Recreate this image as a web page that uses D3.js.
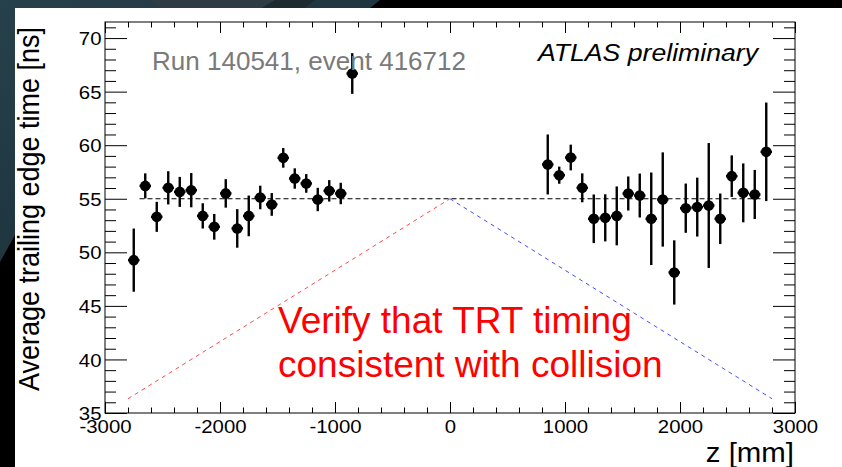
<!DOCTYPE html>
<html>
<head>
<meta charset="utf-8">
<script src="https://cdn.jsdelivr.net/npm/d3@7"></script>
<style>
  html, body { margin: 0; padding: 0; background: #000; }
  svg { display: block; }
  text { font-family: "Liberation Sans", Arial, Helvetica, sans-serif; }
</style>
</head>
<body>
<svg id="chart" width="842" height="467"></svg>
<script>
// ---- data ----
const zLeft = [-2750, -2650, -2550, -2450, -2350, -2250, -2150, -2050, -1950, -1850,
               -1750, -1650, -1550, -1450, -1350, -1250, -1150, -1050, -950, -850];
const tLeft = [49.27, 56.2, 53.31, 56.02, 55.64, 55.8, 53.4, 52.38, 55.5, 52.23,
               53.4, 55.12, 54.47, 58.82, 56.89, 56.43, 54.93, 55.74, 55.49, 66.69];
const eLeft = [2.95, 1.17, 1.4, 1.55, 1.4, 1.6, 1.18, 1.2, 1.33, 1.8,
               1.9, 1.1, 1.06, 0.92, 0.95, 0.87, 1.09, 1.0, 1.0, 1.9];

const zRight = [850, 950, 1050, 1150, 1250, 1350, 1450, 1550, 1650, 1750,
                1850, 1950, 2050, 2150, 2250, 2350, 2450, 2550, 2650, 2750];
const tRight = [58.2, 57.2, 58.85, 56.02, 53.13, 53.22, 53.4, 55.49, 55.3, 53.13,
                54.93, 48.12, 54.12, 54.22, 54.37, 53.13, 57.11, 55.55, 55.4, 59.38];
const eRight = [2.8, 0.8, 1.2, 1.35, 2.27, 2.2, 2.75, 1.59, 2.05, 4.32,
                4.4, 3.0, 2.3, 2.75, 5.83, 2.36, 1.94, 2.75, 2.29, 4.6];

const binHalfWidth = 50;

const refLine  = [[-2700, 55], [2700, 55]];
const redLine  = [[-2800, 36.33], [0, 55]];
const blueLine = [[0, 55], [2800, 36.33]];

const xMajorTicks = [-3000, -2000, -1000, 0, 1000, 2000, 3000];
const yMajorTicks = [35, 40, 45, 50, 55, 60, 65, 70];

const xTitle = "z [mm]";
const yTitle = "Average trailing edge time [ns]";
const runLabel = "Run 140541, event 416712";
const atlasLabel = "ATLAS preliminary";
const noteLines = ["Verify that TRT timing", "consistent with collision"];

// ---- layout ----
const W = 842, H = 467;
const plot = { left: 105, right: 795, top: 22, bottom: 413 };
const svg = d3.select("#chart");

// background
svg.append("rect").attr("width", W).attr("height", H).attr("fill", "#000");
const defs = svg.append("defs");
const grad = defs.append("linearGradient").attr("id", "teal")
  .attr("x1", 0).attr("y1", 0).attr("x2", 1).attr("y2", 1);
grad.append("stop").attr("offset", 0).attr("stop-color", "#27414c");
grad.append("stop").attr("offset", 1).attr("stop-color", "#172a32");
svg.append("path").attr("d", "M0,0 L380,0 L370,8 L15,8 L15,235 L0,262 Z").attr("fill", "url(#teal)");
svg.append("path").attr("d", "M150,0 L275,0 L262,8 L160,8 Z").attr("fill", "#2e3d44");
svg.append("path").attr("d", "M275,0 L315,0 L305,8 L262,8 Z").attr("fill", "#1d2a30");
// white panel
svg.append("rect").attr("x", 15).attr("y", 8).attr("width", W - 15).attr("height", H - 8).attr("fill", "#fff");

// scales
const x = d3.scaleLinear().domain([-3000, 3000]).range([plot.left, plot.right]);
const y = d3.scaleLinear().domain([35, 71.5]).range([plot.bottom, plot.top]);

const xMinor = d3.range(-3000, 3001, 200).filter(v => v % 1000 !== 0);
const yMinor = d3.range(35, 72, 1).filter(v => v % 5 !== 0);

const FS_TICK = 18.5, SX = 1.1;

// axes (ticks inside, ROOT style)
function styleAxis(g) {
  g.select(".domain").remove();
  g.selectAll("line").attr("stroke", "#000").attr("stroke-width", 1);
}
svg.append("g").attr("transform", `translate(0,${plot.bottom})`)
  .call(d3.axisBottom(x).tickValues(xMajorTicks).tickSize(-11).tickSizeOuter(0).tickPadding(7).tickFormat(d3.format("d")))
  .call(styleAxis)
  .call(g => g.selectAll("text").attr("font-size", FS_TICK).attr("fill", "#000")
      .attr("font-family", "Liberation Sans, Arial, sans-serif")
      .attr("y", 0).attr("dy", 0)
      .attr("transform", `translate(0,${6.5 + 0.71 * FS_TICK}) scale(${SX},1)`)
      .text(d => d < 0 ? "-" + Math.abs(d) : d));
svg.append("g").attr("transform", `translate(0,${plot.bottom})`)
  .call(d3.axisBottom(x).tickValues(xMinor).tickSize(-5.5).tickSizeOuter(0).tickFormat(""))
  .call(styleAxis);
svg.append("g").attr("transform", `translate(0,${plot.top})`)
  .call(d3.axisTop(x).tickValues(xMajorTicks).tickSize(-11).tickSizeOuter(0).tickFormat(""))
  .call(styleAxis);
svg.append("g").attr("transform", `translate(0,${plot.top})`)
  .call(d3.axisTop(x).tickValues(xMinor).tickSize(-5.5).tickSizeOuter(0).tickFormat(""))
  .call(styleAxis);

svg.append("g").attr("transform", `translate(${plot.left},0)`)
  .call(d3.axisLeft(y).tickValues(yMajorTicks).tickSize(-22).tickSizeOuter(0).tickPadding(3))
  .call(styleAxis)
  .call(g => g.selectAll("text").attr("font-size", FS_TICK).attr("fill", "#000")
      .attr("font-family", "Liberation Sans, Arial, sans-serif")
      .attr("x", 0).attr("dy", 0)
      .attr("transform", `translate(-3.5,${0.36 * FS_TICK}) scale(${SX},1)`));
svg.append("g").attr("transform", `translate(${plot.left},0)`)
  .call(d3.axisLeft(y).tickValues(yMinor).tickSize(-11).tickSizeOuter(0).tickFormat(""))
  .call(styleAxis);
svg.append("g").attr("transform", `translate(${plot.right},0)`)
  .call(d3.axisRight(y).tickValues(yMajorTicks).tickSize(-22).tickSizeOuter(0).tickFormat(""))
  .call(styleAxis);
svg.append("g").attr("transform", `translate(${plot.right},0)`)
  .call(d3.axisRight(y).tickValues(yMinor).tickSize(-11).tickSizeOuter(0).tickFormat(""))
  .call(styleAxis);

// frame
svg.append("rect").attr("x", plot.left).attr("y", plot.top)
  .attr("width", plot.right - plot.left).attr("height", plot.bottom - plot.top)
  .attr("fill", "none").attr("stroke", "#000").attr("stroke-width", 1);

// reference lines
const line = d3.line().x(d => x(d[0])).y(d => y(d[1]));
svg.append("path").datum(refLine).attr("d", line).attr("fill", "none")
  .attr("stroke", "#000").attr("stroke-width", 1.1).attr("stroke-dasharray", "5,3");
svg.append("path").datum(redLine).attr("d", line).attr("fill", "none")
  .attr("stroke", "#ff2a2a").attr("stroke-opacity", 0.85).attr("stroke-width", 1).attr("stroke-dasharray", "4,4");
svg.append("path").datum(blueLine).attr("d", line).attr("fill", "none")
  .attr("stroke", "#2a2aff").attr("stroke-opacity", 0.85).attr("stroke-width", 1).attr("stroke-dasharray", "4,4");

// data points with error bars
const pts = zLeft.map((z, i) => ({ z, t: tLeft[i], e: eLeft[i] }))
  .concat(zRight.map((z, i) => ({ z, t: tRight[i], e: eRight[i] })));
const pg = svg.append("g");
pg.selectAll("line.ey").data(pts).join("line").attr("class", "ey")
  .attr("x1", d => x(d.z)).attr("x2", d => x(d.z))
  .attr("y1", d => y(d.t - d.e)).attr("y2", d => y(d.t + d.e))
  .attr("stroke", "#000").attr("stroke-width", 2.4);
pg.selectAll("line.ex").data(pts).join("line").attr("class", "ex")
  .attr("x1", d => x(d.z - binHalfWidth)).attr("x2", d => x(d.z + binHalfWidth))
  .attr("y1", d => y(d.t)).attr("y2", d => y(d.t))
  .attr("stroke", "#000").attr("stroke-width", 2.4);
pg.selectAll("circle").data(pts).join("circle")
  .attr("cx", d => x(d.z)).attr("cy", d => y(d.t)).attr("r", 5.3).attr("fill", "#000");

// texts
svg.append("text").attr("x", 152).attr("y", 70).attr("font-size", 25.5).attr("fill", "#7a7a7a")
  .attr("textLength", 314).attr("lengthAdjust", "spacingAndGlyphs").text(runLabel);
svg.append("text").attr("x", 538).attr("y", 61).attr("font-size", 24.5).attr("font-style", "italic")
  .attr("fill", "#000").attr("textLength", 220).attr("lengthAdjust", "spacingAndGlyphs").text(atlasLabel);
svg.append("text").attr("x", 794).attr("y", 462).attr("font-size", 28).attr("fill", "#000")
  .attr("text-anchor", "end").attr("transform", "translate(794,462) scale(1.05,1) translate(-794,-462)")
  .text(xTitle);
svg.append("text").attr("transform", "translate(39,27) scale(1.12,1) rotate(-90)").attr("font-size", 27)
  .attr("fill", "#000").attr("text-anchor", "end").text(yTitle);

svg.selectAll("text.note").data(noteLines).join("text").attr("class", "note")
  .attr("x", 278).attr("y", (d, i) => 333 + i * 44).attr("font-size", 37).attr("fill", "#ff0000").text(d => d);
</script>
</body>
</html>
